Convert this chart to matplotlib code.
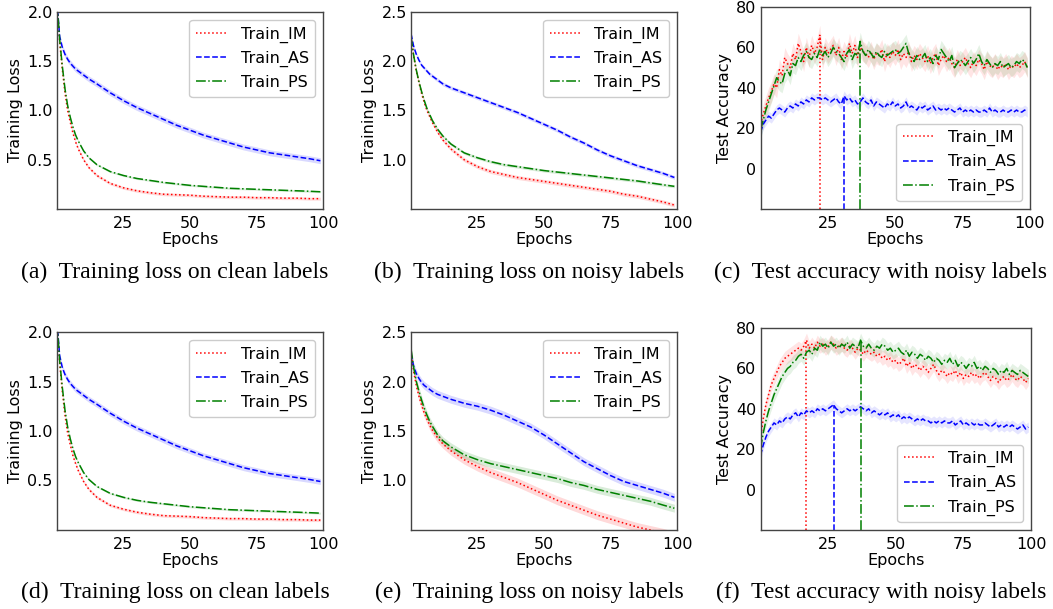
import numpy as np
import matplotlib
matplotlib.use("Agg")
import matplotlib.pyplot as plt

loss_epochs = [0, 1, 2, 3, 4, 5, 6, 7, 8, 10, 12, 15, 20, 25, 30, 35, 40, 45, 50,
               55, 60, 65, 70, 75, 80, 85, 90, 95, 99]
acc_epochs = list(range(100))

series_names = ["Train_IM", "Train_AS", "Train_PS"]

# (a) training loss on clean labels
loss_a_im = [2.10, 1.70, 1.42, 1.18, 1.00, 0.88, 0.77, 0.68, 0.61, 0.50, 0.42, 0.34, 0.26, 0.215,
             0.185, 0.165, 0.15, 0.145, 0.14, 0.13, 0.125, 0.12, 0.12, 0.115, 0.115, 0.11, 0.11,
             0.105, 0.105]
loss_a_as = [2.10, 1.75, 1.64, 1.57, 1.52, 1.48, 1.45, 1.42, 1.40, 1.36, 1.32, 1.27, 1.18, 1.10,
             1.03, 0.97, 0.91, 0.85, 0.80, 0.75, 0.71, 0.67, 0.63, 0.60, 0.57, 0.55, 0.53, 0.51,
             0.49]
loss_a_ps = [2.10, 1.72, 1.45, 1.22, 1.05, 0.93, 0.83, 0.75, 0.69, 0.59, 0.52, 0.45, 0.38, 0.34,
             0.31, 0.29, 0.27, 0.255, 0.24, 0.23, 0.22, 0.21, 0.205, 0.20, 0.195, 0.19, 0.185,
             0.18, 0.175]

# (b) training loss on noisy labels
loss_b_im = [2.25, 2.05, 1.90, 1.78, 1.67, 1.58, 1.50, 1.44, 1.38, 1.28, 1.20, 1.11, 1.00, 0.93,
             0.88, 0.85, 0.82, 0.80, 0.78, 0.76, 0.74, 0.72, 0.70, 0.68, 0.65, 0.63, 0.60, 0.57,
             0.54]
loss_b_as = [2.28, 2.15, 2.07, 2.01, 1.96, 1.93, 1.90, 1.87, 1.85, 1.81, 1.77, 1.73, 1.68, 1.63,
             1.58, 1.53, 1.48, 1.42, 1.36, 1.30, 1.23, 1.17, 1.10, 1.04, 0.99, 0.94, 0.90, 0.86,
             0.82]
loss_b_ps = [2.25, 2.06, 1.91, 1.79, 1.69, 1.60, 1.52, 1.46, 1.40, 1.31, 1.24, 1.16, 1.07, 1.02,
             0.98, 0.95, 0.93, 0.91, 0.89, 0.875, 0.86, 0.845, 0.83, 0.815, 0.80, 0.785, 0.765,
             0.745, 0.73]

# (d) training loss on clean labels
loss_d_im = [2.10, 1.69, 1.40, 1.16, 0.98, 0.86, 0.75, 0.67, 0.60, 0.49, 0.41, 0.33, 0.25, 0.21,
             0.18, 0.16, 0.145, 0.14, 0.135, 0.125, 0.12, 0.115, 0.115, 0.11, 0.11, 0.105, 0.105,
             0.10, 0.10]
loss_d_as = [2.10, 1.76, 1.64, 1.57, 1.52, 1.48, 1.45, 1.42, 1.40, 1.36, 1.32, 1.27, 1.18, 1.10,
             1.03, 0.97, 0.91, 0.85, 0.80, 0.75, 0.71, 0.67, 0.63, 0.60, 0.57, 0.55, 0.53, 0.51,
             0.49]
loss_d_ps = [2.10, 1.71, 1.44, 1.21, 1.04, 0.92, 0.82, 0.74, 0.68, 0.58, 0.51, 0.44, 0.37, 0.33,
             0.30, 0.28, 0.265, 0.25, 0.235, 0.225, 0.215, 0.205, 0.20, 0.195, 0.19, 0.185, 0.18,
             0.175, 0.17]

# (e) training loss on noisy labels
loss_e_im = [2.30, 2.10, 1.96, 1.85, 1.76, 1.68, 1.62, 1.56, 1.51, 1.43, 1.37, 1.30, 1.21, 1.14,
             1.08, 1.03, 0.98, 0.92, 0.86, 0.80, 0.75, 0.70, 0.65, 0.61, 0.57, 0.53, 0.50, 0.47,
             0.44]
loss_e_as = [2.28, 2.15, 2.08, 2.03, 1.99, 1.96, 1.94, 1.92, 1.90, 1.87, 1.85, 1.82, 1.78, 1.75,
             1.71, 1.66, 1.60, 1.54, 1.46, 1.37, 1.28, 1.19, 1.12, 1.05, 0.99, 0.95, 0.91, 0.87,
             0.83]
loss_e_ps = [2.33, 2.14, 2.00, 1.90, 1.81, 1.73, 1.66, 1.60, 1.55, 1.46, 1.40, 1.34, 1.26, 1.21,
             1.17, 1.14, 1.11, 1.08, 1.05, 1.02, 0.98, 0.95, 0.91, 0.88, 0.85, 0.82, 0.79, 0.75,
             0.72]

# (c) test accuracy with noisy labels
acc_c_im = [22, 27, 31, 35, 38, 42, 40, 49, 46, 55,
            52, 50, 57, 54, 62, 58, 53, 60, 55, 61,
            57, 60, 66, 54, 60, 57, 59, 61, 56, 60,
            54, 58, 55, 62, 57, 61, 55, 60, 58, 57,
            55, 58, 54, 57, 56, 59, 53, 57, 55, 58,
            56, 59, 54, 57, 55, 58, 53, 56, 54, 57,
            55, 53, 56, 52, 55, 57, 51, 54, 56, 53,
            55, 52, 50, 54, 51, 53, 55, 52, 50, 53,
            51, 54, 52, 49, 53, 51, 50, 52, 49, 51,
            50, 52, 49, 51, 50, 52, 50, 51, 53, 50]
acc_c_as = [18, 22, 24, 26, 25, 27, 29, 30, 29, 28,
            30, 31, 30, 32, 31, 33, 32, 34, 33, 35,
            34, 35, 35, 34, 35, 34, 33, 34, 35, 33,
            32, 36, 34, 35, 33, 34, 32, 33, 35, 33,
            32, 34, 31, 33, 32, 31, 30, 32, 31, 33,
            31, 32, 30, 31, 33, 30, 31, 30, 29, 31,
            30, 31, 29, 30, 31, 29, 30, 29, 30, 29,
            30, 29, 28, 29, 30, 28, 29, 28, 29, 28,
            29, 28, 28, 29, 28, 30, 28, 29, 28, 28,
            29, 28, 28, 29, 28, 29, 28, 28, 29, 28]
acc_c_ps = [19, 24, 29, 33, 37, 41, 45, 43, 42, 47,
            49, 46, 52, 51, 55, 53, 56, 58, 55, 54,
            57, 55, 59, 56, 58, 55, 57, 60, 58, 57,
            55, 53, 57, 59, 54, 57, 56, 63, 58, 56,
            59, 57, 55, 58, 56, 55, 58, 56, 57, 58,
            59, 57, 58, 60, 62, 57, 55, 53, 56, 54,
            55, 57, 53, 55, 52, 56, 54, 59, 57, 55,
            53, 56, 50, 52, 54, 53, 51, 53, 55, 52,
            54, 57, 53, 51, 54, 52, 50, 52, 51, 53,
            50, 51, 52, 50, 51, 53, 52, 54, 53, 50]

# (f) test accuracy with noisy labels
acc_f_im = [25, 35, 42, 47, 52, 55, 58, 61, 63, 65,
            66, 67, 68, 69, 70, 69, 71, 74, 70, 72,
            70, 73, 71, 72, 70, 71, 73, 72, 70, 71,
            72, 70, 69, 71, 70, 68, 70, 69, 67, 69,
            68, 67, 68, 66, 67, 65, 66, 64, 65, 63,
            64, 62, 63, 65, 61, 63, 60, 62, 61, 59,
            61, 60, 58, 60, 62, 59, 57, 59, 58, 56,
            58, 57, 59, 56, 58, 55, 57, 56, 58, 56,
            57, 55, 57, 58, 56, 54, 56, 55, 53, 55,
            56, 54, 55, 57, 55, 54, 56, 55, 53, 55]
acc_f_as = [17, 22, 26, 29, 31, 33, 32, 34, 33, 35,
            36, 35, 37, 38, 36, 38, 37, 39, 38, 39,
            38, 40, 39, 40, 39, 40, 41, 42, 40, 39,
            38, 39, 40, 39, 40, 39, 40, 41, 40, 39,
            40, 38, 39, 38, 37, 38, 37, 38, 36, 37,
            36, 37, 35, 36, 35, 36, 35, 34, 35, 34,
            35, 34, 34, 33, 34, 33, 34, 33, 34, 33,
            33, 34, 32, 33, 34, 32, 33, 32, 33, 32,
            33, 32, 32, 33, 32, 31, 32, 33, 31, 32,
            31, 32, 31, 32, 31, 30, 31, 32, 30, 31]
acc_f_ps = [20, 28, 34, 39, 43, 47, 50, 53, 56, 58,
            60, 61, 63, 64, 66, 67, 65, 68, 69, 67,
            70, 69, 73, 71, 72, 70, 73, 71, 72, 70,
            72, 71, 73, 70, 72, 71, 70, 74, 71, 70,
            72, 70, 69, 71, 70, 72, 71, 69, 70, 68,
            69, 70, 68, 67, 69, 66, 68, 67, 65, 67,
            66, 64, 66, 65, 63, 65, 64, 62, 64, 63,
            65, 62, 64, 61, 63, 62, 60, 62, 61, 63,
            60, 61, 59, 61, 60, 58, 60, 59, 57, 59,
            58, 60, 57, 59, 58, 57, 59, 58, 57, 56]

# spread (std) of the shaded bands, one per series: IM, AS, PS
std_a = [0.015, 0.03, 0.01]
std_b = [0.02, 0.02, 0.015]
std_d = [0.015, 0.03, 0.01]
std_e = [0.045, 0.04, 0.04]
std_c = [5.0, 2.5, 4.5]
std_f = [3.5, 2.5, 3.5]

captions = ["(a)  Training loss on clean labels", "(b)  Training loss on noisy labels",
            "(c)  Test accuracy with noisy labels", "(d)  Training loss on clean labels",
            "(e)  Training loss on noisy labels", "(f)  Test accuracy with noisy labels"]

colors = ["red", "blue", "green"]
styles = [":", "--", "-."]
FS = 11.5

W, H = 1053, 609
fig = plt.figure(figsize=(W / 100, H / 100), dpi=100)


def px_axes(left, top, right, bottom):
    return fig.add_axes([left / W, 1 - bottom / H, (right - left) / W, (bottom - top) / H])


def style_axes(ax, ylabel):
    for s in ax.spines.values():
        s.set_color("#444444")
        s.set_linewidth(1.0)
    ax.tick_params(axis="both", length=0, labelsize=FS)
    ax.tick_params(axis="x", pad=5)
    ax.tick_params(axis="y", pad=3)
    ax.set_xlabel("Epochs", fontsize=FS, labelpad=1)
    ax.set_ylabel(ylabel, fontsize=FS, labelpad=3)
    ax.set_xlim(0, 100)
    ax.set_xticks([25, 50, 75, 100])


def loss_panel(ax, curves, stds, ylim, yticks):
    x = np.array(loss_epochs)
    for y, s, c, ls, name in zip(curves, stds, colors, styles, series_names):
        y = np.array(y)
        ax.fill_between(x, y - s, y + s, color=c, alpha=0.15, linewidth=0)
        ax.plot(x, y, color=c, linestyle=ls, linewidth=1.1, label=name)
    ax.set_ylim(*ylim)
    ax.set_yticks(yticks)
    style_axes(ax, "Training Loss")
    ax.legend(loc="upper right", fontsize=FS, edgecolor="#cccccc", framealpha=1.0)


def acc_panel(ax, curves, stds):
    x = np.array(acc_epochs)
    ymin = -20
    for y, s, c, ls, name in zip(curves, stds, colors, styles, series_names):
        y = np.array(y, dtype=float)
        ax.fill_between(x, y - s, y + s, color=c, alpha=0.1, linewidth=0)
        ax.plot(x, y, color=c, linestyle=ls, linewidth=1.1, label=name)
        best = int(np.argmax(y))
        ax.vlines(x[best], ymin, y[best], colors=c, linestyles=ls, linewidth=1.1)
    ax.set_ylim(ymin, 80)
    ax.set_yticks([0, 20, 40, 60, 80])
    style_axes(ax, "Test Accuracy")
    ax.legend(loc="lower right", fontsize=FS, edgecolor="#cccccc", framealpha=1.0)


ax_a = px_axes(57, 12, 323, 209)
ax_b = px_axes(411, 12, 677, 209)
ax_c = px_axes(760.5, 7, 1030, 209)
ax_d = px_axes(57, 332, 323, 530)
ax_e = px_axes(411, 332, 677, 530)
ax_f = px_axes(760.5, 328, 1031, 530)

loss_panel(ax_a, [loss_a_im, loss_a_as, loss_a_ps], std_a, (0, 2.0), [0.5, 1.0, 1.5, 2.0])
loss_panel(ax_b, [loss_b_im, loss_b_as, loss_b_ps], std_b, (0.5, 2.5), [1.0, 1.5, 2.0, 2.5])
acc_panel(ax_c, [acc_c_im, acc_c_as, acc_c_ps], std_c)
loss_panel(ax_d, [loss_d_im, loss_d_as, loss_d_ps], std_d, (0, 2.0), [0.5, 1.0, 1.5, 2.0])
loss_panel(ax_e, [loss_e_im, loss_e_as, loss_e_ps], std_e, (0.5, 2.5), [1.0, 1.5, 2.0, 2.5])
acc_panel(ax_f, [acc_f_im, acc_f_as, acc_f_ps], std_f)

caption_x = [175, 529, 881, 175, 529, 881]
caption_y = [272, 272, 272, 592, 592, 592]
for cap, cx, cy in zip(captions, caption_x, caption_y):
    fig.text(cx / W, 1 - cy / H, cap, ha="center", va="center",
             fontsize=17, family="Liberation Serif")

fig.savefig("out.png", dpi=100)
